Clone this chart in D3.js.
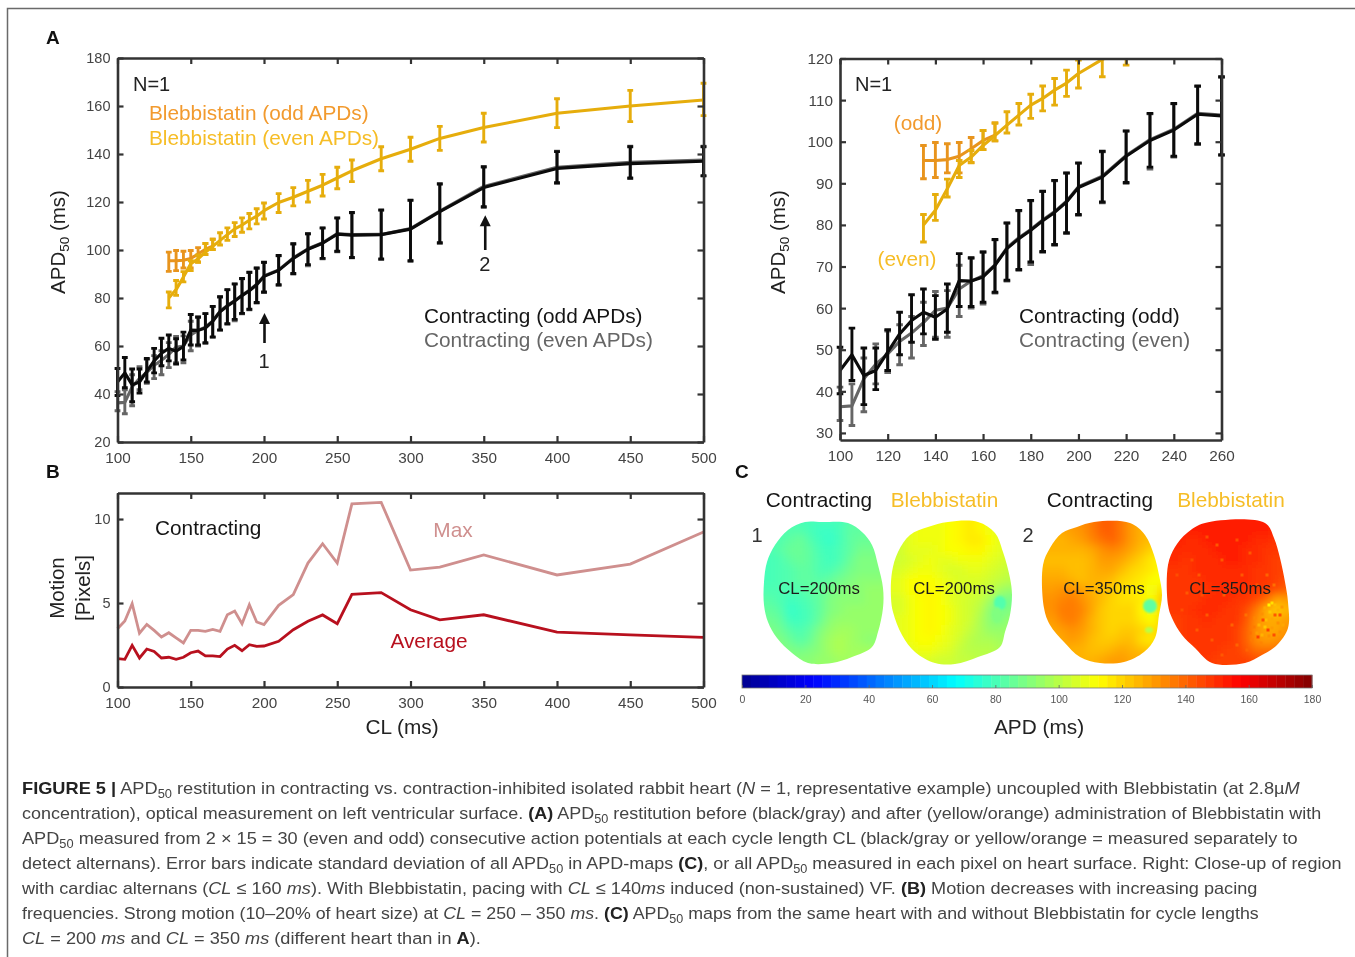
<!DOCTYPE html>
<html><head><meta charset="utf-8">
<style>
html,body{margin:0;padding:0;background:#fff}
svg{display:block;filter:blur(0.3px)}
text{font-family:"Liberation Sans",Arial,sans-serif}
</style>
<script src="https://cdn.jsdelivr.net/npm/d3@7"></script>
</head><body>
<svg id="chart" width="1355" height="957"></svg>
<script>
// ---------- DATA ----------
const clContracting=[100,105,110,115,120,125,130,135,140,145,150,155,160,165,170,175,180,185,190,195,200,210,220,230,240,250,260,280,300,320,350,400,450,500];
const oddMean=[45,48.8,43.8,45,49.4,53.8,57,59,57.8,59.8,66.6,66.5,67.5,70.3,74.3,76.7,78.7,81,83,85.5,89,91.5,96.5,100.3,102.8,106.6,106.2,106.4,108.7,116,126,134,136,137];
const oddHi=[50.6,55.2,50.4,50.4,54.8,59,63.2,64.6,63,65.8,73.1,72.1,73.5,76.5,80.5,83.5,85.9,88.1,90.7,92.5,94.9,97.7,102.6,106.8,109.2,113.4,115.6,116.7,120.8,127.5,134.6,141,143,143];
const oddLo=[39.4,42.6,36.8,40.4,45,48.8,51.8,53.8,52.5,54.2,60.4,60.4,61.4,63.8,66.7,69.3,71.1,73.6,75.3,78.1,82.5,85.5,90.2,93.9,96.5,99.5,96.9,96.3,95.5,103,118,128,130,131];
const evenMean=[36.3,36.5,43,46.5,49,52,54,56.5,59.5,60,64.6,66.5,67.8,70.4,74.5,76.9,78.9,81.2,83.2,85.7,89.2,91.7,96.7,100.5,103,106.8,106.4,106.5,108.9,116.2,126.5,134.5,136.5,137.5];
const evenHi=[41,41.8,48,51.4,54.5,56,58,61.4,64,64.2,70.3,72,73.5,76.4,80.4,83.4,85.8,88,90.6,92.4,94.8,97.6,102.5,106.7,109.1,113.3,115.5,116.5,120.6,127.6,134.8,141.2,143.2,143.2];
const evenLo=[33,31.8,35.1,41.8,44.5,46.4,48,51,53,53,58,60,61,63.6,66.5,69.1,70.5,73.4,75.1,77.9,82.3,85.3,90,93.4,96.3,99.3,96.7,96,95.3,102.8,117.8,127.8,129.8,130.8];

const clBleb=[135,140,145,150,155,160,165,170,175,180,185,190,195,200,210,220,230,240,250,260,280,300,320,350,400,450,500];
const blebEvenMean=[80,83.5,88.7,94.3,96.3,99.1,101.5,104,106.4,108.8,110.4,112.4,114.1,116.4,119.8,122,124.5,127,130,133,138,142,146.5,151,157,160,162.5];
const blebEvenHi=[82.5,87.3,91,95.5,97.9,102.7,104.5,107.2,109.2,111.4,113.4,115.2,117.2,119.6,123.5,126,129,131.5,134.5,137.5,143,147,151.5,157,163,166.5,169.5];
const blebEvenLo=[75.9,81.1,86.7,91.4,94.9,98.1,100.2,102.1,104,105.6,107.4,108.8,110.9,112.9,115.6,118.4,120,122.5,125.5,128.5,133,137,141.5,145,151,153.5,156];
const clBlebOdd=[135,140,145,150,155,160,165];
const blebOddMean=[95.5,95.5,95.7,96.5,98.3,100.3,101.6];
const blebOddHi=[99.1,99.8,99.5,99.8,101,102.7,104.5];
const blebOddLo=[91.1,91.4,92.5,92.5,95,98.1,100.2];

const motionMax=[3.47,3.93,4.96,3.2,3.73,3.37,2.98,3.23,2.92,2.62,3.37,3.37,3.31,3.43,3.31,4.3,4.52,3.77,4.9,3.87,3.71,4.86,5.5,7.38,8.53,7.38,10.9,10.99,6.96,7.14,7.86,6.67,7.32,9.23];
const motionAvg=[1.69,1.65,2.48,1.73,2.26,2.12,1.73,1.77,1.65,1.77,2.04,2.14,1.85,1.85,1.81,2.26,2.48,2.16,2.52,2.42,2.44,2.72,3.41,3.91,4.29,3.77,5.52,5.62,4.6,4.0,4.3,3.27,3.1,2.95];

const ticksAx=[100,150,200,250,300,350,400,450,500];
const ticksAy=[20,40,60,80,100,120,140,160,180];
const ticksRx=[100,120,140,160,180,200,220,240,260];
const ticksRy=[30,40,50,60,70,80,90,100,110,120];
const ticksBy=[0,5,10];
const ticksBar=[0,20,40,60,80,100,120,140,160,180];

const map1Values=[
[82,82,82,82,80,80,80,80,80,82,84,84,84],
[80,80,81,82,82,80,78,78,80,84,84,84,84],
[81,81,82,84,86,82,79,77,80,84,86,86,86],
[81,81,83,86,86,84,80,79,81,84,88,88,88],
[80,80,81,84,86,84,81,79,81,86,90,90,90],
[80,80,81,82,84,84,81,81,84,88,90,90,90],
[80,80,81,82,84,84,83,85,88,90,92,92,92],
[81,81,81,81,82,84,85,88,90,92,92,94,94],
[83,83,81,79,80,82,85,90,92,92,92,94,94],
[85,85,83,77,79,81,85,90,92,94,94,94,94],
[87,87,85,79,79,81,86,92,94,94,94,94,94],
[89,89,87,83,81,84,90,94,96,96,94,94,94],
[90,90,90,86,83,86,92,96,98,96,94,92,92],
[92,92,90,90,88,90,92,96,98,96,96,96,96],
[92,92,92,90,92,92,94,94,96,96,96,96,96],
[92,92,92,90,92,92,94,94,96,96,96,96,96]];
const map2Values=[
[106,106,108,110,110,110,112,114,116,114,110,108,108],
[106,106,108,110,110,110,112,114,116,114,110,108,108],
[104,104,108,110,110,110,112,114,116,116,112,108,108],
[104,104,108,108,108,110,112,112,114,114,110,108,106],
[104,104,106,108,110,108,108,110,110,110,108,106,104],
[106,106,108,110,110,108,106,106,108,108,106,104,102],
[108,108,112,112,112,110,108,106,106,106,104,102,100],
[108,108,112,114,114,112,108,106,106,104,102,96,94],
[106,106,110,112,114,112,108,106,104,102,96,88,88],
[106,106,110,112,114,112,110,106,104,100,92,88,90],
[108,108,110,112,114,112,110,106,104,98,92,90,94],
[108,108,110,112,114,112,108,106,102,98,94,94,94],
[108,108,110,112,112,110,108,104,100,98,98,96,96],
[106,106,108,110,110,108,106,102,100,100,100,98,98],
[104,106,106,106,106,104,104,102,102,100,100,100,100],
[104,106,106,106,106,104,104,102,102,100,100,100,100]];
const map3Values=[
[126,126,128,130,132,136,141,141,136,130,126,124,124],
[126,126,128,130,132,136,141,141,136,130,126,124,124],
[126,126,126,128,130,134,138,140,136,130,126,124,124],
[126,126,126,126,126,128,132,134,132,128,124,120,118],
[124,124,124,124,124,126,130,130,128,124,120,116,114],
[126,126,126,124,124,126,128,128,124,120,118,116,112],
[128,128,128,126,124,126,126,124,120,118,116,112,112],
[130,130,132,132,130,126,124,122,118,116,114,110,118],
[132,132,134,136,132,128,124,120,118,118,116,112,124],
[132,132,136,136,134,128,122,120,120,120,114,110,118],
[130,130,134,136,132,126,122,120,120,120,116,112,120],
[128,128,130,132,130,126,122,120,122,122,120,118,120],
[126,126,128,130,128,124,122,122,124,124,118,116,120],
[126,126,128,126,126,124,124,126,128,126,124,122,124],
[128,128,128,128,126,126,128,130,130,128,128,126,126],
[128,128,128,128,126,126,128,130,130,128,128,126,126]];
const map4Values=[
[152,152,152,152,152,152,152,152,152,152,152,150,150],
[152,152,152,152,152,152,152,152,152,152,152,150,150],
[152,152,150,150,152,152,152,152,152,150,150,148,148],
[150,150,150,150,150,152,152,152,150,150,148,148,148],
[150,150,148,150,150,150,152,152,150,150,148,146,146],
[148,148,148,150,150,150,150,150,150,148,148,146,146],
[148,148,148,148,150,150,150,150,150,148,148,146,144],
[148,148,148,148,148,150,150,150,148,148,146,144,140],
[148,148,148,148,150,150,150,148,148,144,138,128,130],
[148,148,148,150,150,150,148,148,144,136,126,122,126],
[146,146,148,148,150,148,148,148,142,132,128,128,130],
[146,146,148,148,148,148,148,146,140,132,128,128,132],
[146,146,148,148,148,148,148,146,140,132,130,132,134],
[146,146,146,148,148,148,146,146,142,138,138,138,138],
[146,146,146,148,148,146,146,146,146,144,144,144,144],
[146,146,146,148,148,146,146,146,146,144,144,144,144]];

const outline1=[[50,7],[33,15],[20,30],[12,47],[9,67],[9,90],[13,107],[22,123],[37,138],[53,148],[77,148],[97,142],[117,132],[123,117],[128,93],[128,73],[123,50],[117,30],[107,17],[93,8],[67,7]];
const outline2=[[63,7],[93,7],[110,18],[118,37],[125,63],[127,80],[125,100],[120,117],[115,132],[93,142],[70,149],[50,148],[30,137],[17,120],[8,97],[6,83],[7,57],[13,37],[25,20],[43,12]];
const outline3=[[57,7],[93,8],[108,20],[117,40],[122,60],[125,80],[122,100],[118,123],[107,137],[87,147],[63,148],[43,142],[27,127],[13,110],[7,93],[6,50],[13,33],[25,18],[40,12]];
const outline4=[[43,8],[103,8],[112,23],[118,43],[123,67],[126,87],[126,113],[115,130],[100,140],[83,148],[50,148],[33,133],[20,120],[10,103],[6,90],[6,50],[13,32],[25,18]];

// small patches: centre x, centre y, radius x, radius y, APD
const map2Patches=[[115,88,6,7,82],[112,100,5,8,90]];
const map3Patches=[[113,91,7,7,84],[112,115,4,3,100]];
const map4Speckle=[[107,90,114],[110,88,118],[113,90,124],[103,93,128],[100,99,132],[108,97,122],[116,95,126],[120,92,130],[104,105,124],[110,104,128],[97,110,126],[103,112,122],[110,113,130],[116,108,132],[95,118,130],[100,120,126],[107,121,132],[93,103,134],[99,128,134],[90,125,136],[118,117,132],[113,100,142],[101,105,144],[106,115,146],[96,122,146],[112,120,144],[118,100,144],[121,110,128],[92,112,136],[88,118,138],[60,45,142],[37,60,142],[62,80,142],[70,110,140],[45,100,142],[25,78,142],[80,60,142],[55,30,142],[84,100,138],[75,130,140],[30,45,144],[50,125,142],[88,38,142],[105,60,140],[112,70,138],[70,72,144],[40,80,144],[20,95,144],[35,115,142],[60,140,142],[85,135,140],[95,70,142],[45,22,144],[75,25,144],[15,60,144]];

const captionLines=[
[["FIGURE 5 |","b"],[" APD"],["50","s"],[" restitution in contracting vs. contraction-inhibited isolated rabbit heart ("],["N","i"],[" = 1, representative example) uncoupled with Blebbistatin (at 2.8µ"],["M","i"]],
[["concentration), optical measurement on left ventricular surface. "],["(A)","b"],[" APD"],["50","s"],[" restitution before (black/gray) and after (yellow/orange) administration of Blebbistatin with"]],
[["APD"],["50","s"],[" measured from 2 × 15 = 30 (even and odd) consecutive action potentials at each cycle length CL (black/gray or yellow/orange = measured separately to"]],
[["detect alternans). Error bars indicate standard deviation of all APD"],["50","s"],[" in APD-maps "],["(C)","b"],[", or all APD"],["50","s"],[" measured in each pixel on heart surface. Right: Close-up of region"]],
[["with cardiac alternans ("],["CL","i"],[" ≤ 160 "],["ms","i"],["). With Blebbistatin, pacing with "],["CL","i"],[" ≤ 140"],["ms","i"],[" induced (non-sustained) VF. "],["(B)","b"],[" Motion decreases with increasing pacing"]],
[["frequencies. Strong motion (10–20% of heart size) at "],["CL","i"],[" = 250 – 350 "],["ms","i"],[". "],["(C)","b"],[" APD"],["50","s"],[" maps from the same heart with and without Blebbistatin for cycle lengths"]],
[["CL","i"],[" = 200 "],["ms","i"],[" and "],["CL","i"],[" = 350 "],["ms","i"],[" (different heart than in "],["A","b"],[")."]]
];
const captionEnds=[1301,1322,1299,1342,1258,1260,481];

// ---------- STYLE ----------
const cAxis="#333", cTick="#444", cBlack="#0b0b0b", cGray="#666666", cYellow="#e6ad0c", cOrange="#e8941d";
const tOrange="#f29a2e", tYellow="#f6bd26", cMax="#cf8f8e", cAvg="#b8101e";
const svg=d3.select("#chart");

// frame
svg.append("path").attr("d","M1355,8.5H7.5V957").attr("fill","none").attr("stroke","#6a6a6a").attr("stroke-width",1.5);

const defs=svg.append("defs");
function txt(x,y,s,opt={}){
  return svg.append("text").attr("x",x).attr("y",y).text(s)
    .attr("font-size",opt.size||20.8).attr("fill",opt.fill||"#222")
    .attr("text-anchor",opt.anchor||"start").attr("font-weight",opt.weight||null);
}
function drawAxes(x,y,xt,yt,ySize){
  const [x0,x1]=x.range(), [y1,y0]=y.range();
  const styleAxis=g=>{
    g.select(".domain").attr("stroke",cAxis).attr("stroke-width",2.6);
    g.selectAll(".tick line").attr("stroke",cAxis).attr("stroke-width",2.2);
    g.selectAll(".tick text").attr("fill",cTick).attr("font-family",'"Liberation Sans",Arial,sans-serif');
  };
  svg.append("g").attr("transform",`translate(0,${y0})`).call(d3.axisTop(x).tickValues(xt).tickSizeInner(-6).tickSizeOuter(0).tickFormat("")).call(styleAxis);
  svg.append("g").attr("transform",`translate(${x1},0)`).call(d3.axisLeft(y).tickValues(yt).tickSizeInner(6).tickSizeOuter(0).tickFormat("")).call(styleAxis);
  svg.append("g").attr("transform",`translate(0,${y1})`).call(d3.axisBottom(x).tickValues(xt).tickSizeInner(-6).tickSizeOuter(0).tickPadding(10)).call(styleAxis)
    .selectAll(".tick text").attr("font-size",15.3);
  svg.append("g").attr("transform",`translate(${x0},0)`).call(d3.axisLeft(y).tickValues(yt).tickSizeInner(-6).tickSizeOuter(0).tickPadding(7)).call(styleAxis)
    .selectAll(".tick text").attr("font-size",ySize);
}
function series(g,x,y,xs,mean,hi,lo,color,capW,lineClip){
  const line=d3.line().x((d,i)=>x(xs[i])).y(d=>y(d));
  const bars=g.append("g").attr("stroke",color).attr("stroke-width",2.9).attr("fill","none");
  xs.forEach((c,i)=>{
    bars.append("path").attr("d",`M${x(c)},${y(hi[i])}V${y(lo[i])}`);
    bars.append("path").attr("d",`M${x(c)-capW},${y(hi[i])}h${2*capW}M${x(c)-capW},${y(lo[i])}h${2*capW}`);
  });
  const p=g.append("path").attr("d",line(mean)).attr("fill","none").attr("stroke",color).attr("stroke-width",3.1).attr("stroke-linejoin","round");
  if(lineClip) p.attr("clip-path",lineClip);
}
function allSeries(g,x,y,cap,lineClip){
  series(g,x,y,clContracting,evenMean,evenHi,evenLo,cGray,cap,lineClip);
  series(g,x,y,clContracting,oddMean,oddHi,oddLo,cBlack,cap,lineClip);
  series(g,x,y,clBlebOdd,blebOddMean,blebOddHi,blebOddLo,cOrange,cap,lineClip);
  series(g,x,y,clBleb,blebEvenMean,blebEvenHi,blebEvenLo,cYellow,cap,lineClip);
}
function yTitle(x,y,parts,size){
  const t=svg.append("text").attr("transform",`translate(${x},${y}) rotate(-90)`).attr("text-anchor","middle").attr("font-size",size||20.5).attr("fill","#222");
  parts.forEach(p=>{
    const s=t.append("tspan").text(p[0]);
    if(p[1]==="s") s.attr("font-size",13.5).attr("dy",4);
    else if(p[1]==="r") s.attr("dy",-4);
  });
}
function arrow(x,yTip,yTail){
  svg.append("path").attr("d",`M${x},${yTail}V${yTip+6}`).attr("stroke","#111").attr("stroke-width",2.6).attr("fill","none");
  svg.append("path").attr("d",`M${x},${yTip}L${x+5.5},${yTip+11}H${x-5.5}Z`).attr("fill","#111");
}

// ---------- PANEL A (full range) ----------
const xA=d3.scaleLinear().domain([100,500]).range([117.5,703.5]);
const yA=d3.scaleLinear().domain([20,180]).range([442,58]);
allSeries(svg.append("g"),xA,yA,2.9);
drawAxes(xA,yA,ticksAx,ticksAy,14.5);
yTitle(65,242,[["APD"],["50","s"],[" (ms)","r"]]);
txt(133,91,"N=1",{size:20});
txt(149,120,"Blebbistatin (odd APDs)",{fill:tOrange});
txt(149,145,"Blebbistatin (even APDs)",{fill:tYellow});
txt(424,323,"Contracting (odd APDs)",{fill:"#151515"});
txt(424,347,"Contracting (even APDs)",{fill:"#666"});
arrow(xA(200)+0.5,yA(73.8),343);
txt(xA(200),368,"1",{size:20,anchor:"middle"});
arrow(xA(350)+1.5,yA(114.5),250);
txt(xA(350)+1,271,"2",{size:20,anchor:"middle"});
txt(46,44,"A",{size:19,weight:"bold",fill:"#111",anchor:"start"});

// ---------- PANEL A (close-up) ----------
const xR=d3.scaleLinear().domain([100,260]).range([840,1221.5]);
const yR=d3.scaleLinear().domain([28.3,120]).range([440,58.5]);
defs.append("clipPath").attr("id","clipR").append("rect").attr("x",830).attr("y",58.5).attr("width",396).attr("height",381.5);
const clipRLineX=defs.append("clipPath").attr("id","clipRL").attr("clipPathUnits","userSpaceOnUse");
clipRLineX.append("rect").attr("x",840).attr("y",58.5).attr("width",381.5).attr("height",381.5);
allSeries(svg.append("g").attr("clip-path","url(#clipR)"),xR,yR,3.3,"url(#clipRL)");
drawAxes(xR,yR,ticksRx,ticksRy,15.3);
yTitle(785,242,[["APD"],["50","s"],[" (ms)","r"]]);
txt(855,91,"N=1",{size:20});
txt(918,130,"(odd)",{fill:tOrange,anchor:"middle"});
txt(907,266,"(even)",{fill:tYellow,anchor:"middle"});
txt(1019,323,"Contracting (odd)",{fill:"#151515"});
txt(1019,347,"Contracting (even)",{fill:"#666"});

// ---------- PANEL B ----------
const xB=d3.scaleLinear().domain([100,500]).range([117.5,703.5]);
const yB=d3.scaleLinear().domain([0,11.55]).range([687,493]);
const lineB=d3.line().x((d,i)=>xB(clContracting[i])).y(d=>yB(d));
svg.append("path").attr("d",lineB(motionMax)).attr("fill","none").attr("stroke",cMax).attr("stroke-width",2.8);
svg.append("path").attr("d",lineB(motionAvg)).attr("fill","none").attr("stroke",cAvg).attr("stroke-width",2.8);
drawAxes(xB,yB,ticksAx,ticksBy,14.5);
yTitle(64,588,[["Motion"]]);
yTitle(90,588,[["[Pixels]"]]);
txt(155,535,"Contracting",{fill:"#151515"});
txt(453,537,"Max",{fill:cMax,anchor:"middle"});
txt(429,648,"Average",{fill:cAvg,anchor:"middle"});
txt(402,734,"CL (ms)",{size:20.8,anchor:"middle"});
txt(46,478,"B",{size:19,weight:"bold",fill:"#111"});

// ---------- PANEL C ----------
const jet=d3.scaleLinear().domain([0,22.5,67.5,112.5,157.5,180])
  .range(["#00008f","#0000ff","#00ffff","#ffff00","#ff0000","#800000"]).clamp(true);
defs.append("filter").attr("id","blurCells").attr("x","-5%").attr("y","-5%").attr("width","110%").attr("height","110%")
  .append("feGaussianBlur").attr("stdDeviation",4);
defs.append("filter").attr("id","blurSmall").attr("x","-30%").attr("y","-30%").attr("width","160%").attr("height","160%")
  .append("feGaussianBlur").attr("stdDeviation",1.2);
defs.append("filter").attr("id","blurFine").append("feGaussianBlur").attr("stdDeviation",0.7);

function heart(id,x0,values,outline,patches,speckle,label,labelX){
  const x=d3.scaleLinear().domain([0,130]).range([x0,x0+130]);
  const y=d3.scaleLinear().domain([0,155]).range([515,670]);
  const edge=d3.line().x(d=>x(d[0])).y(d=>y(d[1])).curve(d3.curveCatmullRomClosed.alpha(0.5));
  defs.append("clipPath").attr("id",id).append("path").attr("d",edge(outline));
  const g=svg.append("g").attr("clip-path",`url(#${id})`);
  const cells=g.append("g").attr("filter","url(#blurCells)");
  cells.append("rect").attr("x",x(-10)).attr("y",y(-10)).attr("width",150).attr("height",180).attr("fill",jet(values[0][0]));
  values.forEach((row,r)=>row.forEach((v,c)=>{
    const cx0=c===0?-12:c*10, cy0=r===0?-12:r*10;
    cells.append("rect").attr("x",x(cx0)).attr("y",y(cy0))
      .attr("width",x((c+1)*10+(c===12?12:0))-x(cx0)+0.5).attr("height",y((r+1)*10+(r===15?12:0))-y(cy0)+0.5)
      .attr("fill",jet(v));
  }));
  if(patches){
    const p=g.append("g").attr("filter","url(#blurSmall)");
    patches.forEach(d=>p.append("ellipse").attr("cx",x(d[0])).attr("cy",y(d[1])).attr("rx",d[2]).attr("ry",d[3]).attr("fill",jet(d[4])));
  }
  if(speckle){
    const p=g.append("g").attr("filter","url(#blurFine)");
    speckle.forEach(d=>p.append("rect").attr("x",x(d[0])-1.5).attr("y",y(d[1])-1.5).attr("width",3).attr("height",3).attr("fill",jet(d[2])));
  }
  txt(labelX,594,label,{size:16.8,fill:"#1c1c1c",anchor:"middle"});
}
heart("h1",755,map1Values,outline1,null,null,"CL=200ms",819);
heart("h2",885,map2Values,outline2,map2Patches,null,"CL=200ms",954);
heart("h3",1037,map3Values,outline3,map3Patches,null,"CL=350ms",1104);
heart("h4",1162,map4Values,outline4,null,map4Speckle,"CL=350ms",1230);

txt(735,478,"C",{size:19,weight:"bold",fill:"#111"});
txt(819,507,"Contracting",{fill:"#151515",anchor:"middle"});
txt(944.5,507,"Blebbistatin",{fill:tYellow,anchor:"middle"});
txt(1100,507,"Contracting",{fill:"#151515",anchor:"middle"});
txt(1231,507,"Blebbistatin",{fill:tYellow,anchor:"middle"});
txt(757,542,"1",{size:20,fill:"#333",anchor:"middle"});
txt(1028,542,"2",{size:20,fill:"#333",anchor:"middle"});

// colour bar
const xBar=d3.scaleLinear().domain([0,180]).range([742,1312]);
const barTop=675, barH=13;
d3.range(64).forEach(i=>{
  const a=i*180/64, b=(i+1)*180/64;
  svg.append("rect").attr("x",xBar(a)).attr("y",barTop).attr("width",xBar(b)-xBar(a)+0.4).attr("height",barH).attr("fill",jet((a+b)/2));
});
svg.append("rect").attr("x",742).attr("y",barTop).attr("width",570).attr("height",barH).attr("fill","none").attr("stroke","#777").attr("stroke-width",0.8);
const axBar=svg.append("g").attr("transform",`translate(0,${barTop+barH})`)
  .call(d3.axisBottom(xBar).tickValues(ticksBar).tickSizeInner(-3).tickSizeOuter(0).tickPadding(8));
axBar.select(".domain").remove();
axBar.selectAll(".tick line").attr("stroke","#666").attr("stroke-width",0.8);
axBar.selectAll(".tick text").attr("fill","#555").attr("font-size",10.5).attr("font-family",'"Liberation Sans",Arial,sans-serif');
txt(1039,734,"APD (ms)",{size:20.8,anchor:"middle"});

// ---------- CAPTION ----------
captionLines.forEach((runs,li)=>{
  const base=794+li*25;
  const t=svg.append("text").attr("font-size",17).attr("fill","#444");
  let lowered=false;
  runs.forEach(r=>{
    const s=t.append("tspan").text(r[0]);
    let dy=0;
    if(r[1]==="s"){s.attr("font-size",12); dy=4; lowered=true;}
    else if(lowered){dy=-4; lowered=false;}
    if(dy) s.attr("dy",dy);
    if(r[1]==="b"){s.attr("font-weight","bold").attr("fill","#222");}
    if(r[1]==="i"){s.attr("font-style","italic");}
  });
  const w=t.node().getComputedTextLength();
  const sx=(captionEnds[li]-22)/w;
  t.attr("transform",`translate(22,${base}) scale(${sx},1)`);
});
</script>
</body></html>
